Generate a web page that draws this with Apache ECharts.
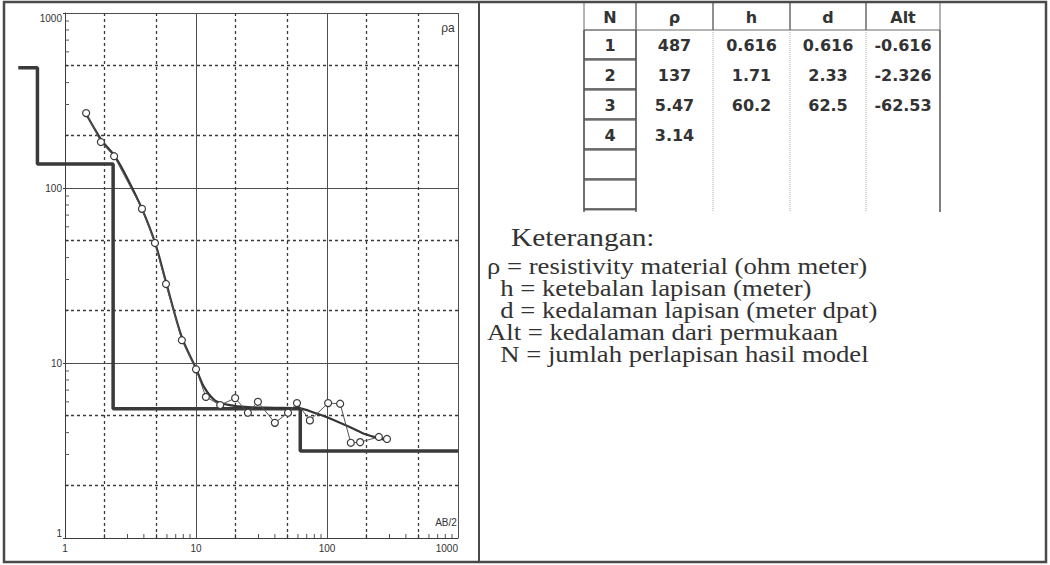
<!DOCTYPE html>
<html>
<head>
<meta charset="utf-8">
<script src="https://cdn.jsdelivr.net/npm/echarts@6/dist/echarts.min.js"></script>
<style>
html, body { margin: 0; padding: 0; background: #ffffff; }
#chart { width: 1050px; height: 565px; }
</style>
</head>
<body>
<div id="chart"></div>
<script>
// Field sounding: AB/2 (m) and apparent resistivity rho_a (ohm m)
const obsAB  = [1.45, 1.88, 2.37, 3.87, 4.86, 5.9, 7.8, 10, 11.9, 15.3, 19.9, 24.9, 29.7, 40, 50.4, 59, 74, 102, 126, 152, 179, 249, 287];
const obsRho = [268, 183, 152, 76, 48.5, 28.3, 13.5, 9.2, 6.4, 5.75, 6.3, 5.2, 6.0, 4.55, 5.2, 5.9, 4.7, 5.9, 5.85, 3.5, 3.53, 3.78, 3.68];

// Calculated response of the layered model
const fitAB  = [1.45, 1.9, 2.4, 3.0, 3.9, 4.9, 5.9, 7.8, 10, 11.5, 14, 18, 25, 40, 62, 80, 100, 150, 200, 290];
const fitRho = [265, 188, 152, 113, 75, 48, 29, 14, 9.3, 7.3, 6.1, 5.75, 5.6, 5.55, 5.5, 5.2, 4.9, 4.3, 3.9, 3.6];

// Layer model table
const tableHeader = ['N', 'ρ', 'h', 'd', 'Alt'];
const layerN   = ['1', '2', '3', '4'];
const layerRho = ['487', '137', '5.47', '3.14'];
const layerH   = ['0.616', '1.71', '60.2', ''];
const layerD   = ['0.616', '2.33', '62.5', ''];
const layerAlt = ['-0.616', '-2.326', '-62.53', ''];
const modelStartAB = 0.44;   // model curve starts left of the plotted range
const modelEndAB = 1000;

// Axis decades and minor steps
const decadeTicks = [1, 10, 100, 1000];
const dashedGrid = [2, 5, 20, 50, 200, 500];
const minorSteps = [2, 3, 4, 5, 6, 7, 8, 9];

const axisNameY = 'ρa';
const axisNameX = 'AB/2';

const legendTitle = 'Keterangan:';
const legendLines = [
  'ρ = resistivity material (ohm meter)',
  '  h = ketebalan lapisan (meter)',
  '  d = kedalaman lapisan (meter dpat)',
  'Alt = kedalaman dari permukaan',
  '  N = jumlah perlapisan hasil model'
];

// ---- build the step curve of the layer model from the table values
const rhoVals = layerRho.map(Number);
const depthVals = layerD.filter(s => s !== '').map(Number);
const modelPts = [[modelStartAB, rhoVals[0]]];
depthVals.forEach((d, i) => {
  modelPts.push([d, rhoVals[i]]);
  modelPts.push([d, rhoVals[i + 1]]);
});
modelPts.push([modelEndAB, rhoVals[rhoVals.length - 1]]);

const minorVals = [];
[1, 10, 100].forEach(dec => minorSteps.forEach(k => minorVals.push(k * dec)));

// ---- plot frame geometry (main grid spans 1..1000 on both axes)
const plotLeft = 65, plotTop = 13, plotW = 393, plotH = 525;
const decadePx = plotW / 3;
// wider companion grid so the model curve can start left of AB/2 = 1
const wideMin = 0.4;
const wideShift = -Math.log10(wideMin) * decadePx;

const ink = '#3c3c3c';
const axisFont = "'Liberation Sans Narrow', 'Liberation Sans', Arial, sans-serif";
const tableFont = "'DejaVu Sans', sans-serif";
const serifFont = "'Liberation Serif', 'Times New Roman', serif";

// ---- right panel: table + legend (graphic elements)
const colEdges = [584, 636, 713, 790, 866, 940];
const rowTop = 2, headerBottom = 30, rowH = 30, nRows = 6, tableBottom = 212;
const g = [];

// outer frame and divider
g.push({ type: 'rect', shape: { x: 4, y: 2, width: 1042, height: 560 },
  style: { fill: null, stroke: '#4a4a4a', lineWidth: 2.5 }, z: 100 });
g.push({ type: 'line', shape: { x1: 479, y1: 2, x2: 479, y2: 562 },
  style: { stroke: '#4a4a4a', lineWidth: 2 }, z: 100 });

// header cells
for (let c = 0; c < 5; c++) {
  g.push({ type: 'rect', shape: { x: colEdges[c], y: rowTop, width: colEdges[c + 1] - colEdges[c], height: headerBottom - rowTop },
    style: { fill: null, stroke: '#6a6a6a', lineWidth: 1 } });
  g.push({ type: 'text', x: (colEdges[c] + colEdges[c + 1]) / 2, y: (rowTop + headerBottom) / 2 + 1,
    style: { text: tableHeader[c], font: "bold 16px " + tableFont, fill: '#333', align: 'center', verticalAlign: 'middle' } });
}
// N column button cells
for (let r = 0; r < nRows; r++) {
  const y0 = headerBottom + r * rowH;
  g.push({ type: 'rect', shape: { x: colEdges[0], y: y0, width: colEdges[1] - colEdges[0], height: rowH },
    style: { fill: null, stroke: '#777', lineWidth: 1 } });
  g.push({ type: 'line', shape: { x1: colEdges[0], y1: y0 + rowH - 1, x2: colEdges[1], y2: y0 + rowH - 1 },
    style: { stroke: '#444', lineWidth: 1.5 } });
}
// column separators
[2, 3, 4].forEach(c => g.push({ type: 'line', shape: { x1: colEdges[c], y1: headerBottom, x2: colEdges[c], y2: tableBottom },
  style: { stroke: '#aaa', lineWidth: 1, lineDash: [1, 1] } }));
[0, 1, 5].forEach(c => g.push({ type: 'line', shape: { x1: colEdges[c], y1: headerBottom, x2: colEdges[c], y2: tableBottom },
  style: { stroke: '#555', lineWidth: 1.5 } }));

// table values
const columns = [layerN, layerRho, layerH, layerD, layerAlt];
columns.forEach((col, c) => col.forEach((txt, r) => {
  if (!txt) return;
  g.push({ type: 'text', x: (colEdges[c] + colEdges[c + 1]) / 2, y: headerBottom + r * rowH + rowH / 2,
    style: { text: txt, font: "bold 16px " + tableFont, fill: '#333', align: 'center', verticalAlign: 'middle' } });
}));

// legend (the lettering is wide, so it is stretched horizontally)
g.push({ type: 'text', x: 511, y: 237, scaleX: 1.13, scaleY: 1,
  style: { text: legendTitle, font: "26px " + serifFont, fill: '#333', verticalAlign: 'middle' } });
legendLines.forEach((line, i) => {
  g.push({ type: 'text', x: 487, y: 266 + i * 22, scaleX: 1.16, scaleY: 1,
    style: { text: line, font: "23px " + serifFont, fill: '#333', verticalAlign: 'middle', whiteSpace: 'pre' } });
});

// axis captions inside the plot
g.push({ type: 'text', x: 448, y: 28, style: { text: axisNameY, font: "12px " + axisFont, fill: '#333', align: 'center', verticalAlign: 'middle' } });
g.push({ type: 'text', x: 446, y: 522, style: { text: axisNameX, font: "10px " + axisFont, fill: '#333', align: 'center', verticalAlign: 'middle' } });

// ---- tick helpers drawn through the axis scales
function minorTickX(params, api) {
  const p = api.coord([api.value(0), 1]);
  return { type: 'line', shape: { x1: p[0], y1: p[1], x2: p[0], y2: p[1] - 4 }, style: { stroke: '#555', lineWidth: 1 } };
}
function minorTickY(params, api) {
  const p = api.coord([1, api.value(0)]);
  return { type: 'line', shape: { x1: p[0], y1: p[1], x2: p[0] + 4, y2: p[1] }, style: { stroke: '#555', lineWidth: 1 } };
}

const dashedLines = dashedGrid.map(v => ({ xAxis: v })).concat(dashedGrid.map(v => ({ yAxis: v })));

const option = {
  backgroundColor: '#ffffff',
  animation: false,
  grid: [
    { left: plotLeft, top: plotTop, width: plotW, height: plotH, containLabel: false },
    { left: plotLeft - wideShift, top: plotTop, width: plotW + wideShift, height: plotH, containLabel: false }
  ],
  xAxis: [{
    type: 'log', logBase: 10, min: 1, max: 1000, gridIndex: 0,
    axisLine: { show: true, lineStyle: { color: ink, width: 1 } },
    axisTick: { show: false },
    splitLine: { show: true, lineStyle: { color: '#4e4e4e', width: 1 } },
    axisLabel: {
      color: '#333', fontSize: 10, fontFamily: axisFont, margin: 5,
      alignMaxLabel: 'right',
      formatter: v => (decadeTicks.indexOf(v) >= 0 ? String(v) : '')
    }
  }, {
    type: 'log', logBase: 10, min: wideMin, max: 1000, gridIndex: 1, show: false
  }],
  yAxis: [{
    type: 'log', logBase: 10, min: 1, max: 1000, gridIndex: 0,
    axisLine: { show: true, lineStyle: { color: ink, width: 1 } },
    axisTick: { show: true, inside: false, length: 2, lineStyle: { color: ink } },
    splitLine: { show: true, lineStyle: { color: '#4e4e4e', width: 1 } },
    axisLabel: {
      color: '#333', fontSize: 10, fontFamily: axisFont, margin: 3,
      verticalAlignMaxLabel: 'top', verticalAlignMinLabel: 'bottom',
      formatter: v => (decadeTicks.indexOf(v) >= 0 ? String(v) : '')
    }
  }, {
    type: 'log', logBase: 10, min: 1, max: 1000, gridIndex: 1, show: false
  }],
  graphic: { elements: g },
  series: [
    {
      type: 'custom', renderItem: minorTickX, data: minorVals.map(v => [v]),
      encode: { x: 0 }, silent: true, z: 1
    },
    {
      type: 'custom', renderItem: minorTickY, data: minorVals.map(v => [v]),
      encode: { y: 0 }, silent: true, z: 1
    },
    {
      name: 'grid lines', type: 'line', data: [], symbol: 'none',
      markLine: {
        silent: true, symbol: 'none', label: { show: false },
        lineStyle: { color: '#3a3a3a', width: 1.3, type: [3, 3] },
        data: dashedLines
      }
    },
    {
      name: 'model', type: 'line', data: modelPts, xAxisIndex: 1, yAxisIndex: 1,
      symbol: 'none', lineStyle: { color: '#3a3a3a', width: 3.5 }, z: 3
    },
    {
      name: 'calculated', type: 'line', data: fitAB.map((x, i) => [x, fitRho[i]]),
      smooth: 0.3, symbol: 'none', lineStyle: { color: '#353535', width: 2.2 }, z: 4
    },
    {
      name: 'observed', type: 'line', data: obsAB.map((x, i) => [x, obsRho[i]]),
      symbol: 'circle', symbolSize: 7,
      itemStyle: { color: '#ffffff', borderColor: '#3a3a3a', borderWidth: 1.2 },
      lineStyle: { color: '#555', width: 1 }, z: 5
    }
  ]
};

const chart = echarts.init(document.getElementById('chart'), null, { renderer: 'svg' });
chart.setOption(option);
</script>
</body>
</html>
